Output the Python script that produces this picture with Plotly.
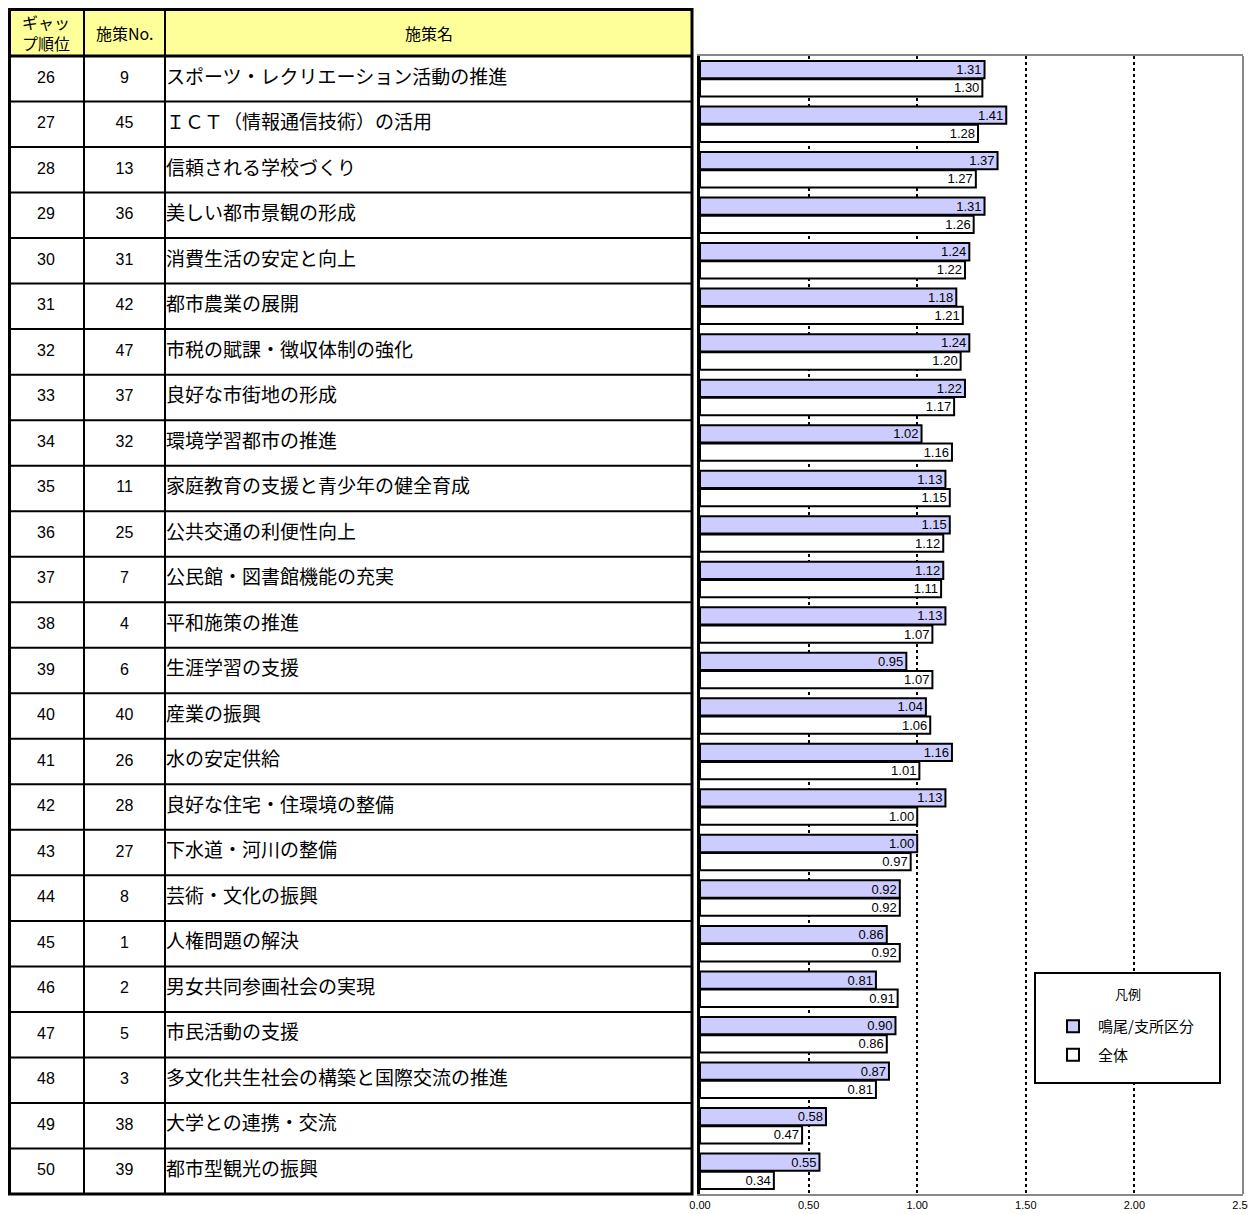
import plotly.graph_objects as go

ranks = list(range(26, 51))
policy_nos = [9, 45, 13, 36, 31, 42, 47, 37, 32, 11, 25, 7, 4, 6, 40, 26, 28, 27, 8, 1, 2, 5, 3, 38, 39]
policy_names = [
    "スポーツ・レクリエーション活動の推進",
    "ＩＣＴ（情報通信技術）の活用",
    "信頼される学校づくり",
    "美しい都市景観の形成",
    "消費生活の安定と向上",
    "都市農業の展開",
    "市税の賦課・徴収体制の強化",
    "良好な市街地の形成",
    "環境学習都市の推進",
    "家庭教育の支援と青少年の健全育成",
    "公共交通の利便性向上",
    "公民館・図書館機能の充実",
    "平和施策の推進",
    "生涯学習の支援",
    "産業の振興",
    "水の安定供給",
    "良好な住宅・住環境の整備",
    "下水道・河川の整備",
    "芸術・文化の振興",
    "人権問題の解決",
    "男女共同参画社会の実現",
    "市民活動の支援",
    "多文化共生社会の構築と国際交流の推進",
    "大学との連携・交流",
    "都市型観光の振興",
]
naruo = [1.31, 1.41, 1.37, 1.31, 1.24, 1.18, 1.24, 1.22, 1.02, 1.13, 1.15, 1.12, 1.13,
         0.95, 1.04, 1.16, 1.13, 1.00, 0.92, 0.86, 0.81, 0.90, 0.87, 0.58, 0.55]
overall = [1.30, 1.28, 1.27, 1.26, 1.22, 1.21, 1.20, 1.17, 1.16, 1.15, 1.12, 1.11, 1.07,
           1.07, 1.06, 1.01, 1.00, 0.97, 0.92, 0.92, 0.91, 0.86, 0.81, 0.47, 0.34]
headers = ["ギャッ<br>プ順位", "施策No.", "施策名"]
x_ticks = [0, 0.5, 1.0, 1.5, 2.0, 2.5]

# page body keeps an 8px margin, so the figure starts 8px in from the window corner
FW, FH = 1248, 1206
JP = "Noto Sans CJK JP"


def px(x):
    return (x - 8) / FW


def py(y):
    return 1 - (y - 8) / FH


cats = [str(r) for r in ranks]
col_edges = [8, 84, 165, 692]
col_mid = [(col_edges[i] + col_edges[i + 1]) / 2 for i in range(2)]

fig = go.Figure()

# bars
fig.add_trace(go.Bar(
    name="鳴尾/支所区分", y=cats, x=naruo, orientation="h", legendgroup="a",
    marker=dict(color="#CCCCFF", line=dict(color="black", width=2)),
    text=[f"{v:.2f}" for v in naruo], textposition="inside", insidetextanchor="end",
    textfont=dict(family="Arial", size=13, color="black"), hoverinfo="x",
))
fig.add_trace(go.Bar(
    name="全体", y=cats, x=overall, orientation="h", legendgroup="b",
    marker=dict(color="white", line=dict(color="black", width=2)),
    text=[f"{v:.2f}" for v in overall], textposition="inside", insidetextanchor="end",
    textfont=dict(family="Arial", size=13, color="black"), hoverinfo="x",
))

# table text, on the same category axis as the bars
fig.add_trace(go.Scatter(
    x=[col_mid[0]] * len(cats), y=cats, text=[str(r) for r in ranks], mode="text",
    textposition="middle center", textfont=dict(family="Arial", size=16, color="black"),
    xaxis="x2", showlegend=False, hoverinfo="skip",
))
fig.add_trace(go.Scatter(
    x=[col_mid[1]] * len(cats), y=cats, text=[str(n) for n in policy_nos], mode="text",
    textposition="middle center", textfont=dict(family="Arial", size=16, color="black"),
    xaxis="x2", showlegend=False, hoverinfo="skip",
))
fig.add_trace(go.Scatter(
    x=[col_edges[2] + 1] * len(cats), y=cats, text=policy_names, mode="text",
    textposition="middle right", textfont=dict(family=JP, size=19, color="black"),
    xaxis="x2", showlegend=False, hoverinfo="skip",
))

# table header and grid
fig.add_shape(type="rect", xref="paper", yref="paper",
              x0=px(col_edges[0]), x1=px(col_edges[-1]), y0=py(56), y1=py(8),
              fillcolor="#FFFF99", line_width=0, layer="below")
for i, h in enumerate(headers):
    fig.add_annotation(x=px((col_edges[i] + col_edges[i + 1]) / 2), y=py(33), xref="paper", yref="paper",
                       xanchor="center", yanchor="middle",
                       text=h, showarrow=False, font=dict(family=JP, size=16, color="black"))
for i in range(len(cats) - 1):
    fig.add_shape(type="line", xref="paper", yref="y", x0=px(8), x1=px(692), y0=i + 0.5, y1=i + 0.5,
                  line=dict(color="black", width=2))
for xe in col_edges[1:3]:
    fig.add_shape(type="line", xref="paper", yref="paper", x0=px(xe), x1=px(xe), y0=py(1194), y1=py(9.5),
                  line=dict(color="black", width=2))
fig.add_shape(type="line", xref="paper", yref="paper", x0=px(8), x1=px(692), y0=py(56), y1=py(56),
              line=dict(color="black", width=3))
fig.add_shape(type="rect", xref="paper", yref="paper", x0=px(9.5), x1=px(692), y0=py(1194), y1=py(9.5),
              line=dict(color="black", width=3))

# right frame of plot and legend box
fig.add_shape(type="line", xref="x domain", yref="y domain", x0=1, x1=1, y0=0, y1=1,
              line=dict(color="#888888", width=2))
fig.add_shape(type="rect", xref="paper", yref="paper", x0=px(1035), x1=px(1220), y0=py(1083), y1=py(973),
              fillcolor="white", line=dict(color="black", width=2), layer="above")
fig.add_annotation(x=px(1128), y=py(993), xref="paper", yref="paper", xanchor="center", yanchor="middle",
                   text="凡例", showarrow=False, font=dict(family=JP, size=13, color="black"))

fig.update_layout(
    width=FW, height=FH,
    margin=dict(l=0, r=0, t=0, b=0),
    paper_bgcolor="white", plot_bgcolor="white",
    barmode="group", bargap=0.2, bargroupgap=0.05,
    uniformtext=dict(minsize=13, mode="show"),
    font=dict(family=JP, color="black"),
    xaxis=dict(
        domain=[px(700), px(1243)], range=[0, 2.5],
        tickvals=x_ticks, tickformat=".2f", automargin=False,
        tickfont=dict(family="Arial", size=11, color="black"),
        showgrid=True, gridcolor="black", griddash="dot", gridwidth=1.5,
        showline=True, mirror=True, linecolor="#888888", linewidth=2,
        zeroline=False, fixedrange=True,
    ),
    xaxis2=dict(
        domain=[px(8), px(692)], range=[8, 692], visible=False, fixedrange=True, anchor="y",
        automargin=False,
    ),
    yaxis=dict(
        domain=[py(1194), py(56)], automargin=False,
        range=[len(cats) - 0.5, -0.5], showticklabels=False, showgrid=False,
        showline=True, linecolor="black", linewidth=3, zeroline=False, fixedrange=True,
    ),
    legend=dict(
        x=px(1048), y=py(1010), xanchor="left", yanchor="top",
        borderwidth=0, bgcolor="rgba(0,0,0,0)",
        font=dict(family=JP, size=15, color="black"),
        traceorder="grouped", tracegroupgap=6, itemwidth=40,
    ),
    showlegend=True,
)

fig.write_html("out.html")
